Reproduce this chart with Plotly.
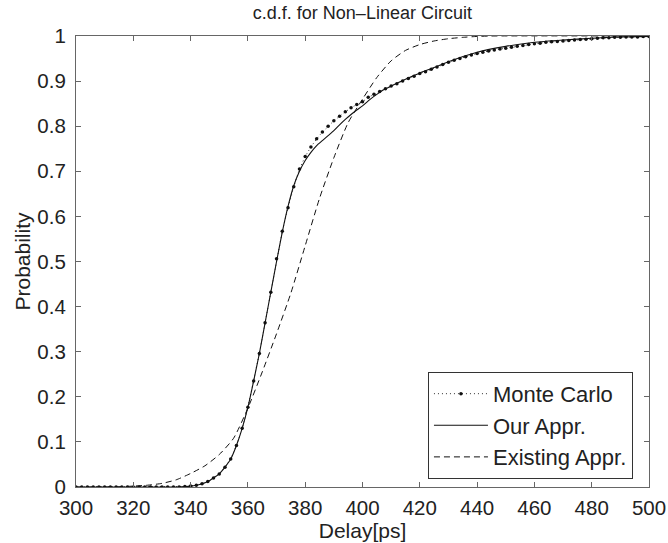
import plotly.graph_objects as go

# ---------------- data ----------------
mc_x = list(range(300, 502, 2))
mc_y = [0]*19 + [0.001, 0.002, 0.004, 0.007, 0.012, 0.020, 0.029, 0.044, 0.062, 0.092, 0.130,
        0.177, 0.235, 0.296, 0.364, 0.432, 0.506, 0.567, 0.619, 0.666, 0.705,
        0.733, 0.754, 0.772, 0.787, 0.800, 0.812, 0.822, 0.832, 0.841, 0.848,
        0.854, 0.864, 0.871, 0.877, 0.883, 0.889, 0.894, 0.900, 0.906, 0.911,
        0.917, 0.921, 0.926, 0.931, 0.937, 0.942, 0.946, 0.950, 0.954, 0.958,
        0.961, 0.964, 0.967, 0.969, 0.971, 0.973, 0.975, 0.977, 0.979, 0.981,
        0.983, 0.984, 0.986, 0.987, 0.988, 0.989, 0.990, 0.991, 0.992, 0.993,
        0.994, 0.995, 0.996, 0.996, 0.997, 0.997, 0.998, 0.998, 0.998, 0.999, 0.999]

our_x = [300, 336, 338, 340, 342, 344, 346, 348, 350, 352, 354, 356, 358, 360, 362, 364, 366,
         368, 370, 372, 374, 376, 378, 380, 382, 384, 386, 388, 390, 392, 394, 396, 398,
         400, 402, 404, 406, 408, 410, 415, 420, 425, 430, 440, 450, 460, 470, 480, 490, 500]
our_y = [0, 0, 0.001, 0.002, 0.004, 0.007, 0.012, 0.020, 0.029, 0.044, 0.062, 0.092, 0.130,
         0.177, 0.235, 0.296, 0.364, 0.432, 0.500, 0.565, 0.622, 0.668, 0.700, 0.724, 0.742,
         0.757, 0.768, 0.779, 0.790, 0.803, 0.815, 0.826, 0.836, 0.845, 0.856, 0.866, 0.875,
         0.883, 0.889, 0.904, 0.918, 0.930, 0.943, 0.964, 0.977, 0.986, 0.991, 0.995, 0.998, 0.999]

ex_x = [300, 310, 315, 320, 325, 330, 335, 340, 345, 350, 355, 360, 365, 370, 375, 380, 385,
        390, 395, 400, 405, 410, 415, 420, 425, 430, 435, 440, 445, 500]
ex_y = [0, 0, 0.0005, 0.002, 0.004, 0.008, 0.016, 0.030, 0.047, 0.072, 0.108, 0.175, 0.255,
        0.340, 0.430, 0.535, 0.640, 0.730, 0.808, 0.860, 0.908, 0.945, 0.968, 0.981, 0.989,
        0.994, 0.997, 0.999, 1.0, 1.0]

x_ticks = [300, 320, 340, 360, 380, 400, 420, 440, 460, 480, 500]
x_tick_text = ["300", "320", "340", "360", "380", "400", "420", "440", "460", "480", "500"]
y_ticks = [0, 0.1, 0.2, 0.3, 0.4, 0.5, 0.6, 0.7, 0.8, 0.9, 1.0]
y_tick_text = ["0", "0.1", "0.2", "0.3", "0.4", "0.5", "0.6", "0.7", "0.8", "0.9", "1"]

FONT = "Liberation Sans, Arial, sans-serif"
TXT = "#222222"

fig = go.Figure()
fig.add_trace(go.Scatter(
    x=mc_x, y=mc_y, name="Monte Carlo", mode="lines+markers",
    line=dict(color="#333333", width=1, dash="1px,3px"),
    marker=dict(color="#111111", size=3.5, symbol="circle")))
fig.add_trace(go.Scatter(
    x=our_x, y=our_y, name="Our Appr.", mode="lines",
    line=dict(color="#111111", width=1.1, shape="spline", smoothing=0.5)))
fig.add_trace(go.Scatter(
    x=ex_x, y=ex_y, name="Existing Appr.", mode="lines",
    line=dict(color="#111111", width=1, dash="6px,4px", shape="spline", smoothing=0.6)))

axis_common = dict(showgrid=False, zeroline=False, showline=True, linecolor="#666666",
                   linewidth=1.2, mirror="ticks", ticks="inside", ticklen=5,
                   tickcolor="#666666", automargin=False,
                   tickfont=dict(family=FONT, size=20.5, color=TXT))

fig.update_layout(
    width=668, height=543,
    margin=dict(l=76, r=19, t=36, b=56, autoexpand=False),
    paper_bgcolor="white", plot_bgcolor="white",
    title=dict(text="c.d.f. for Non\u2013Linear Circuit", x=0.5425, xanchor="center",
               y=0.977, yanchor="middle", font=dict(family=FONT, size=18, color=TXT)),
    xaxis=dict(range=[300, 500], tickvals=x_ticks, ticktext=x_tick_text, ticklabelstandoff=2,
               title=dict(text="Delay[ps]", font=dict(family=FONT, size=21, color=TXT), standoff=2),
               **axis_common),
    yaxis=dict(range=[0, 1], tickvals=y_ticks, ticktext=y_tick_text, ticklabelstandoff=5,
               title=dict(text="Probability", font=dict(family=FONT, size=21, color=TXT), standoff=0),
               **axis_common),
    legend=dict(x=0.972, y=0.018, xanchor="right", yanchor="bottom",
                bgcolor="white", bordercolor="#333333", borderwidth=1,
                font=dict(family=FONT, size=22, color=TXT),
                tracegroupgap=0, itemwidth=54),
    showlegend=True,
)

fig.write_html("out.html", config={"displayModeBar": False},
               post_script="document.body.style.margin='0';document.body.style.padding='0';")
